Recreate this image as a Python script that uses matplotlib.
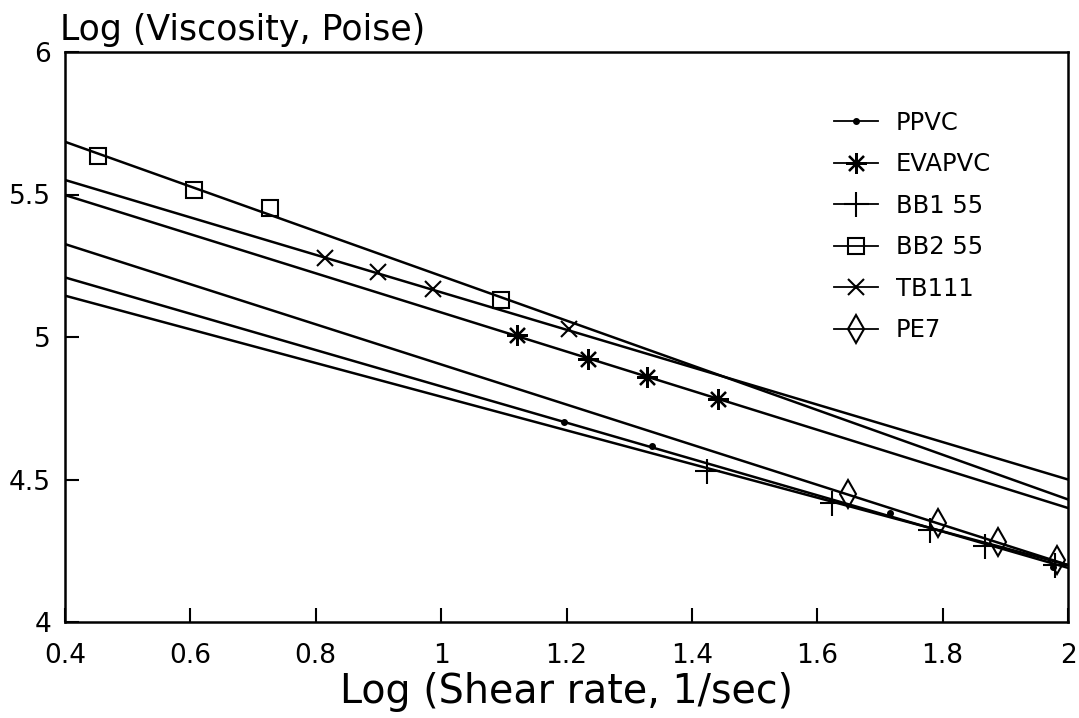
import matplotlib
matplotlib.use("Agg")
import matplotlib.pyplot as plt

plt.rcParams['font.family'] = ['DejaVu Sans']

# fitted lines: y at x = 0.4 and x = 2.0
line_x = [0.4, 2.0]
names = ['PPVC', 'EVAPVC', 'BB1 55', 'BB2 55', 'TB111', 'PE7']
line_y = {
    'PPVC':   [5.209, 4.19],
    'EVAPVC': [5.498, 4.40],
    'BB1 55': [5.145, 4.20],
    'BB2 55': [5.685, 4.43],
    'TB111':  [5.551, 4.50],
    'PE7':    [5.326, 4.20],
}

# measured points
ppvc_x = [1.196, 1.336, 1.716, 1.976]
ppvc_y = [4.703, 4.619, 4.381, 4.194]
evapvc_x = [1.121, 1.235, 1.328, 1.442]
evapvc_y = [5.007, 4.923, 4.861, 4.782]
bb1_x = [1.424, 1.623, 1.780, 1.867, 1.980]
bb1_y = [4.531, 4.416, 4.323, 4.268, 4.200]
bb2_x = [0.453, 0.605, 0.727, 1.095]
bb2_y = [5.636, 5.516, 5.452, 5.130]
tb111_x = [0.814, 0.900, 0.987, 1.204]
tb111_y = [5.276, 5.227, 5.168, 5.027]
pe7_x = [1.649, 1.793, 1.889, 1.982]
pe7_y = [4.449, 4.348, 4.282, 4.218]

points = {
    'PPVC': (ppvc_x, ppvc_y),
    'EVAPVC': (evapvc_x, evapvc_y),
    'BB1 55': (bb1_x, bb1_y),
    'BB2 55': (bb2_x, bb2_y),
    'TB111': (tb111_x, tb111_y),
    'PE7': (pe7_x, pe7_y),
}

styles = {
    'PPVC':   dict(marker='o', ms=4, mfc='black'),
    'EVAPVC': dict(marker=(8, 2, 0), ms=15, mew=1.6),
    'BB1 55': dict(marker='+', ms=18, mew=1.5),
    'BB2 55': dict(marker='s', ms=11, mfc='none', mew=1.5),
    'TB111':  dict(marker='x', ms=12, mew=1.5),
    'PE7':    dict(marker='d', ms=14, mfc='none', mew=1.5),
}

fig = plt.figure(figsize=(10.79, 7.18), dpi=100)
ax = fig.add_axes([65 / 1079, 1 - 622 / 718, 1003 / 1079, 570 / 718])

for n in names:
    ax.plot(line_x, line_y[n], color='black', lw=1.8)
    px, py = points[n]
    ax.plot(px, py, ls='none', color='black', **styles[n])
    # legend proxy
    ax.plot([], [], color='black', lw=1.3, label=n, **styles[n])

ax.set_xlim(0.4, 2.0)
ax.set_ylim(4, 6)
ax.set_xticks([0.4, 0.6, 0.8, 1.0, 1.2, 1.4, 1.6, 1.8, 2.0])
ax.set_xticklabels(['0.4', '0.6', '0.8', '1', '1.2', '1.4', '1.6', '1.8', '2'])
ax.set_yticks([4, 4.5, 5, 5.5, 6])
ax.set_yticklabels(['4', '4.5', '5', '5.5', '6'])
ax.tick_params(direction='in', length=10, width=1.5, labelsize=19,
               top=False, right=False)
ax.tick_params(axis='x', pad=15)
ax.tick_params(axis='y', pad=10)
for s in ax.spines.values():
    s.set_linewidth(1.8)

ax.set_xlabel('Log (Shear rate, 1/sec)', fontsize=28.5, labelpad=2)
fig.text(60 / 1079, 1 - 40 / 718, 'Log (Viscosity, Poise)', fontsize=25,
         va='baseline', ha='left')

ax.legend(loc='upper left', bbox_to_anchor=(0.745, 0.935), frameon=False,
          fontsize=17.5, handlelength=1.8, handletextpad=0.75,
          labelspacing=0.72)

fig.savefig('out.png', dpi=100)
